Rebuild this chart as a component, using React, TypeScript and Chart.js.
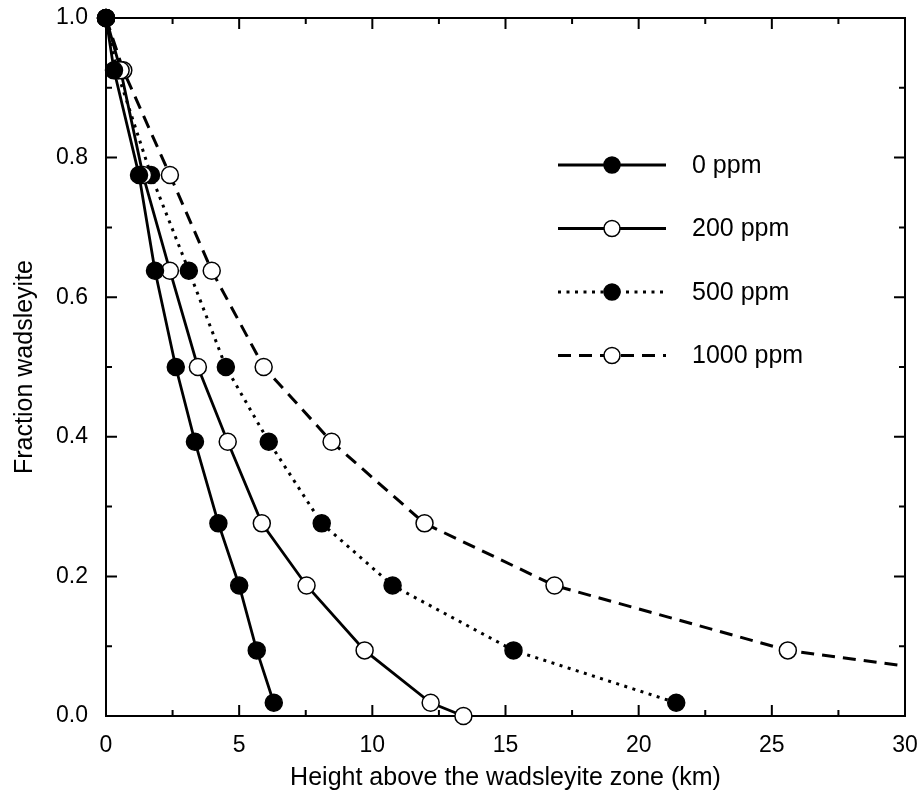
import { useEffect, useRef } from "react";
import { Chart, registerables } from "chart.js";

Chart.register(...registerables);

// ---- data ----
const seriesLabels = ["0 ppm", "200 ppm", "500 ppm", "1000 ppm"];
const fractionLevels = [1.0, 0.925, 0.775, 0.638, 0.5, 0.393, 0.276, 0.187, 0.094, 0.019];
const fractions200 = [1.0, 0.925, 0.775, 0.638, 0.5, 0.393, 0.276, 0.187, 0.094, 0.019, 0.0];
const heights0 = [0, 0.3, 1.24, 1.84, 2.62, 3.34, 4.22, 5.0, 5.66, 6.3];
const heights200 = [0, 0.55, 1.39, 2.4, 3.45, 4.57, 5.85, 7.53, 9.71, 12.19, 13.42];
const heights500 = [0, 0.4, 1.69, 3.11, 4.5, 6.11, 8.1, 10.76, 15.3, 21.41];
const heights1000 = [0, 0.65, 2.4, 3.97, 5.92, 8.47, 11.96, 16.84, 25.6, 40.3];
const xMajorTicks = [0, 5, 10, 15, 20, 25, 30];
const xMinorTicks = [2.5, 7.5, 12.5, 17.5, 22.5, 27.5];
const yMajorTicks = [0, 0.2, 0.4, 0.6, 0.8, 1.0];
const yMinorTicks = [0.1, 0.3, 0.5, 0.7, 0.9];
const xTitle = "Height above the wadsleyite zone (km)";
const yTitle = "Fraction wadsleyite";

const FONT = '"Liberation Sans", Arial, Helvetica, sans-serif';

const pts = (xs: number[], ys: number[]) => xs.map((x, i) => ({ x, y: ys[i] }));

const framePlugin = {
  id: "frameTicks",
  beforeDatasetsDraw(chart: any) {
    const { ctx, chartArea } = chart;
    const { left, right, top, bottom } = chartArea;
    const xs = chart.scales.x;
    const ys = chart.scales.y;
    ctx.save();
    ctx.strokeStyle = "#000";
    ctx.lineWidth = 2;
    ctx.strokeRect(left, top, right - left, bottom - top);
    const major = 11;
    const minor = 6;
    ctx.beginPath();
    const xt = (v: number, len: number) => {
      const p = xs.getPixelForValue(v);
      ctx.moveTo(p, bottom);
      ctx.lineTo(p, bottom - len);
      ctx.moveTo(p, top);
      ctx.lineTo(p, top + len);
    };
    const yt = (v: number, len: number) => {
      const p = ys.getPixelForValue(v);
      ctx.moveTo(left, p);
      ctx.lineTo(left + len, p);
      ctx.moveTo(right, p);
      ctx.lineTo(right - len, p);
    };
    xMajorTicks.forEach((v) => xt(v, major));
    xMinorTicks.forEach((v) => xt(v, minor));
    yMajorTicks.forEach((v) => yt(v, major));
    yMinorTicks.forEach((v) => yt(v, minor));
    ctx.stroke();
    ctx.restore();
  },
};

const legendPlugin = {
  id: "lineLegend",
  afterDraw(chart: any) {
    const { ctx, chartArea } = chart;
    const x0 = chartArea.left + 452;
    const x1 = chartArea.left + 560;
    const xm = (x0 + x1) / 2;
    const xt = chartArea.left + 586;
    const y0 = chartArea.top + 147;
    const step = 63.5;
    chart.data.datasets.forEach((ds: any, i: number) => {
      const y = y0 + i * step;
      ctx.save();
      ctx.strokeStyle = "#000";
      ctx.lineWidth = ds.borderWidth;
      ctx.setLineDash(ds.borderDash || []);
      ctx.beginPath();
      ctx.moveTo(x0, y);
      ctx.lineTo(x1, y);
      ctx.stroke();
      ctx.setLineDash([]);
      ctx.beginPath();
      ctx.arc(xm, y, 8, 0, Math.PI * 2);
      ctx.fillStyle = ds.pointBackgroundColor;
      ctx.fill();
      ctx.lineWidth = 1.5;
      ctx.stroke();
      ctx.fillStyle = "#000";
      ctx.font = `25px ${FONT}`;
      ctx.textBaseline = "middle";
      ctx.textAlign = "left";
      ctx.fillText(ds.label, xt, y + 1);
      ctx.restore();
    });
  },
};

export default function App() {
  const ref = useRef<HTMLCanvasElement>(null);
  useEffect(() => {
    document.body.style.margin = "0";
    const canvas = ref.current;
    if (!canvas) return;
    const common = {
      borderColor: "#000",
      pointBorderColor: "#000",
      pointRadius: 8.5,
      pointHoverRadius: 8.5,
      pointBorderWidth: 1.5,
      tension: 0,
      fill: false,
    };
    const chart = new Chart(canvas, {
      type: "line",
      data: {
        datasets: [
          {
            ...common,
            label: seriesLabels[0],
            data: pts(heights0, fractionLevels),
            borderWidth: 2.8,
            borderDash: [],
            pointBackgroundColor: "#000",
            clip: false,
          },
          {
            ...common,
            label: seriesLabels[1],
            data: pts(heights200, fractions200),
            borderWidth: 2.8,
            borderDash: [],
            pointBackgroundColor: "#fff",
            clip: false,
          },
          {
            ...common,
            label: seriesLabels[2],
            data: pts(heights500, fractionLevels),
            borderWidth: 3,
            borderDash: [3, 5.5],
            pointBackgroundColor: "#000",
            clip: false,
          },
          {
            ...common,
            label: seriesLabels[3],
            data: pts(heights1000, fractionLevels),
            borderWidth: 3,
            borderDash: [13, 8],
            pointBackgroundColor: "#fff",
            clip: { left: 12, top: 12, right: 0, bottom: 12 },
          },
        ] as any,
      },
      options: {
        animation: false,
        responsive: false,
        events: [],
        layout: { padding: { top: 18, right: 16, left: 0, bottom: 0 } },
        plugins: {
          legend: { display: false },
          tooltip: { enabled: false },
        },
        scales: {
          x: {
            type: "linear",
            min: 0,
            max: 30,
            grid: { display: false, drawTicks: false },
            border: { display: false },
            ticks: {
              stepSize: 5,
              color: "#000",
              padding: 16,
              font: { family: FONT, size: 23 },
              maxRotation: 0,
            },
            title: {
              display: true,
              text: xTitle,
              color: "#000",
              font: { family: FONT, size: 25 },
              padding: { top: 0, bottom: 9 },
            },
            afterFit: (s: any) => {
              s.height = 86;
              s.paddingLeft = 0;
              s.paddingRight = 0;
            },
          },
          y: {
            type: "linear",
            min: 0,
            max: 1,
            grid: { display: false, drawTicks: false },
            border: { display: false },
            ticks: {
              stepSize: 0.2,
              color: "#000",
              padding: 18,
              font: { family: FONT, size: 23 },
              callback: (v: any) => Number(v).toFixed(1),
            },
            title: {
              display: true,
              text: yTitle,
              color: "#000",
              font: { family: FONT, size: 25 },
              padding: { top: 10, bottom: 0 },
            },
            afterFit: (s: any) => {
              s.width = 106;
              s.paddingTop = 0;
              s.paddingBottom = 0;
            },
          },
        },
      } as any,
      plugins: [framePlugin, legendPlugin],
    });
    return () => chart.destroy();
  }, []);
  return (
    <div style={{ width: 921, height: 802, background: "#fff" }}>
      <canvas ref={ref} width={921} height={802} style={{ display: "block" }} />
    </div>
  );
}
